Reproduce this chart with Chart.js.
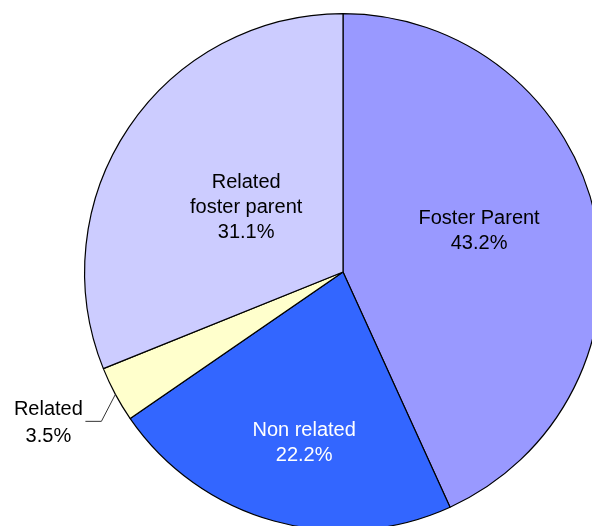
<!DOCTYPE html>
<html>
<head>
<meta charset="utf-8">
<script src="https://cdn.jsdelivr.net/npm/chart.js@4.4.0/dist/chart.umd.min.js"></script>
<style>
  html, body { margin: 0; padding: 0; overflow: hidden; background: #fff; }
  #wrap { position: absolute; left: 0; top: 0; width: 700px; height: 600px; }
</style>
</head>
<body>
<div id="wrap"><canvas id="pie"></canvas></div>
<script>
// placement data
const categories = [['Foster Parent'], ['Non related'], ['Related'], ['Related', 'foster parent']];
const shares = [43.2, 22.2, 3.5, 31.1];
const sliceColors = ['#9999FF', '#3366FF', '#FFFFCC', '#CCCCFF'];
const textColors = ['#000', '#fff', '#000', '#000'];
const labelDepth = [0.55, 0.68, null, 0.45]; // null = label outside with leader line
const labelTurn = [-4.5, -2.7, 0, -0.4];     // degrees off the slice middle

const labelPlugin = {
    id: 'sliceLabels',
    afterDatasetsDraw(chart) {
        const ctx = chart.ctx;
        const meta = chart.getDatasetMeta(0);
        ctx.save();
        ctx.font = '20px "Liberation Sans", Arial, sans-serif';
        ctx.textAlign = 'center';
        ctx.textBaseline = 'middle';
        const lh = 25;
        meta.data.forEach((arc, i) => {
            const mid = (arc.startAngle + arc.endAngle) / 2 + labelTurn[i] * Math.PI / 180;
            const lines = categories[i].concat([shares[i].toFixed(1) + '%']);
            let cx, cy, step = lh;
            if (labelDepth[i] != null) {
                const r = arc.outerRadius * labelDepth[i];
                cx = arc.x + Math.cos(mid) * r;
                cy = arc.y + Math.sin(mid) * r;
            } else {
                const sx = arc.x + Math.cos(mid) * arc.outerRadius;
                const sy = arc.y + Math.sin(mid) * arc.outerRadius;
                const ex = sx - 14, ey = sy + 27;
                ctx.strokeStyle = '#333';
                ctx.lineWidth = 1;
                ctx.beginPath();
                ctx.moveTo(sx, sy); ctx.lineTo(ex, ey); ctx.lineTo(ex - 16, ey);
                ctx.stroke();
                cx = ex - 16 - 37;
                cy = ey + 2;
                step = 27;
            }
            ctx.fillStyle = textColors[i];
            const top = cy - (lines.length - 1) * step / 2;
            lines.forEach((t, k) => ctx.fillText(t, cx, top + k * step));
        });
        ctx.restore();
    }
};

new Chart(document.getElementById('pie'), {
    type: 'pie',
    data: {
        labels: categories.map(c => c.join(' ')),
        datasets: [{ data: shares, backgroundColor: sliceColors, borderColor: '#000', borderWidth: 1.2 }]
    },
    options: {
        responsive: true, maintainAspectRatio: false, animation: false,
        layout: { padding: { left: 84, top: 13, right: 98, bottom: 69 } },
        plugins: { legend: { display: false }, tooltip: { enabled: false } }
    },
    plugins: [labelPlugin]
});
</script>
</body>
</html>
